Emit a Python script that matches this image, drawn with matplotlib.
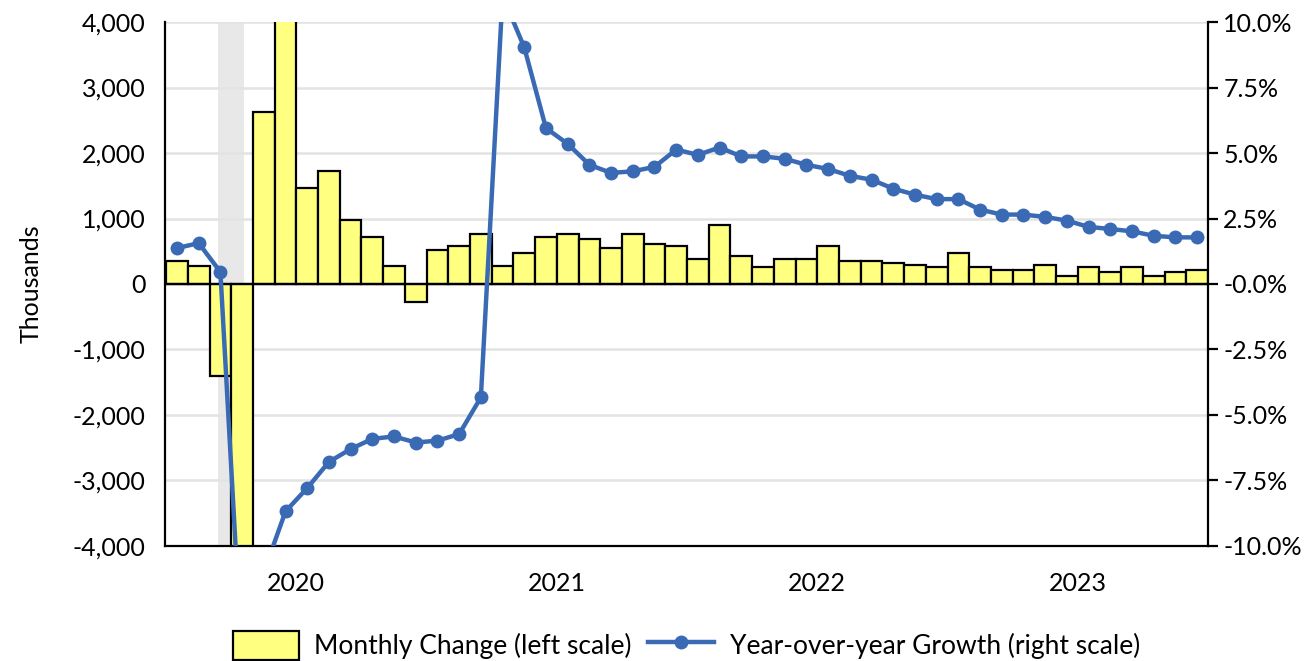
import numpy as np
import matplotlib
matplotlib.use("Agg")
import matplotlib.pyplot as plt
from matplotlib.ticker import FuncFormatter, PercentFormatter

# monthly data, Jan 2020 .. Dec 2023
months = np.arange(48)
year_labels = ["2020", "2021", "2022", "2023"]

# monthly change in payrolls, thousands (left scale)
monthly_change = [350, 280, -1400, -20500, 2625, 4780, 1460, 1720, 975, 710, 280, -270,
                  520, 575, 770, 280, 480, 710, 770, 685, 550, 770, 615, 575,
                  385, 900, 420, 255, 385, 385, 575, 350, 350, 315, 285, 255,
                  480, 255, 215, 215, 285, 120, 255, 185, 255, 120, 185, 215]

# year-over-year growth, percent (right scale)
yoy_growth = [1.37, 1.56, 0.46, -14.5, -11.0, -8.68, -7.79, -6.79, -6.30, -5.91, -5.82, -6.05,
              -5.98, -5.73, -4.33, 11.0, 9.03, 5.95, 5.35, 4.55, 4.24, 4.30, 4.47, 5.13,
              4.93, 5.21, 4.87, 4.87, 4.78, 4.55, 4.39, 4.13, 3.98, 3.64, 3.41, 3.24,
              3.24, 2.84, 2.65, 2.65, 2.56, 2.42, 2.18, 2.10, 2.01, 1.84, 1.78, 1.78]

# recession shading (month index span)
recession = (1.9, 3.1)

bar_color = "#ffff80"
line_color = "#3a6ab4"
grid_color = "#e3e3e3"
fs = 18

plt.rcParams["font.family"] = ["Lato", "DejaVu Sans"]
plt.rcParams["axes.unicode_minus"] = False

fig = plt.figure(figsize=(13.12, 6.61), dpi=100)
ax = fig.add_axes([0.1258, 0.174, 0.7949, 0.7927])
ax2 = ax.twinx()

ax.axvspan(recession[0], recession[1], color="#e8e8e8", lw=0, zorder=0)
bars = ax.bar(months, monthly_change, width=1.0, color=bar_color,
              edgecolor="black", linewidth=1.6, zorder=2,
              label="Monthly Change (left scale)")
ax.axhline(0, color="black", lw=1.6, zorder=3)

ax.set_xlim(-0.55, 47.5)
ax.set_ylim(-4000, 4000)
ax.set_yticks(np.arange(-4000, 4001, 1000))
ax.yaxis.set_major_formatter(FuncFormatter(lambda v, p: f"{int(v):,}"))
ax.yaxis.grid(True, color=grid_color, lw=1.8, zorder=0)
ax.set_axisbelow(True)
ax.tick_params(axis="y", length=0, pad=14, labelsize=fs)
ax.set_xticks([5.5, 17.5, 29.5, 41.5])
ax.set_xticklabels(year_labels)
ax.tick_params(axis="x", length=0, pad=19, labelsize=fs)
ax.set_ylabel("Thousands", fontsize=fs, labelpad=22)

for side in ["top", "right"]:
    ax.spines[side].set_visible(False)
for side in ["left", "bottom"]:
    ax.spines[side].set_linewidth(1.6)

line, = ax2.plot(months, np.array(yoy_growth) / 100.0, color=line_color, lw=3.2,
                 marker="o", markersize=9, zorder=4,
                 label="Year-over-year Growth (right scale)")
ax2.set_ylim(-0.10, 0.10)
ax2.set_yticks(np.arange(-0.10, 0.1001, 0.025))
ax2.yaxis.set_major_formatter(PercentFormatter(1.0, decimals=1))
ax2.tick_params(axis="y", length=7, width=1.6, pad=4, labelsize=fs)
for side in ["top", "left", "bottom"]:
    ax2.spines[side].set_visible(False)
ax2.spines["right"].set_linewidth(1.6)

fig.legend(handles=[bars, line], loc="center", bbox_to_anchor=(0.523, 0.024),
           ncol=2, frameon=False, fontsize=19, handlelength=2.5,
           handleheight=1.3, columnspacing=0.6, handletextpad=0.6)

fig.savefig("out.png", dpi=100)
